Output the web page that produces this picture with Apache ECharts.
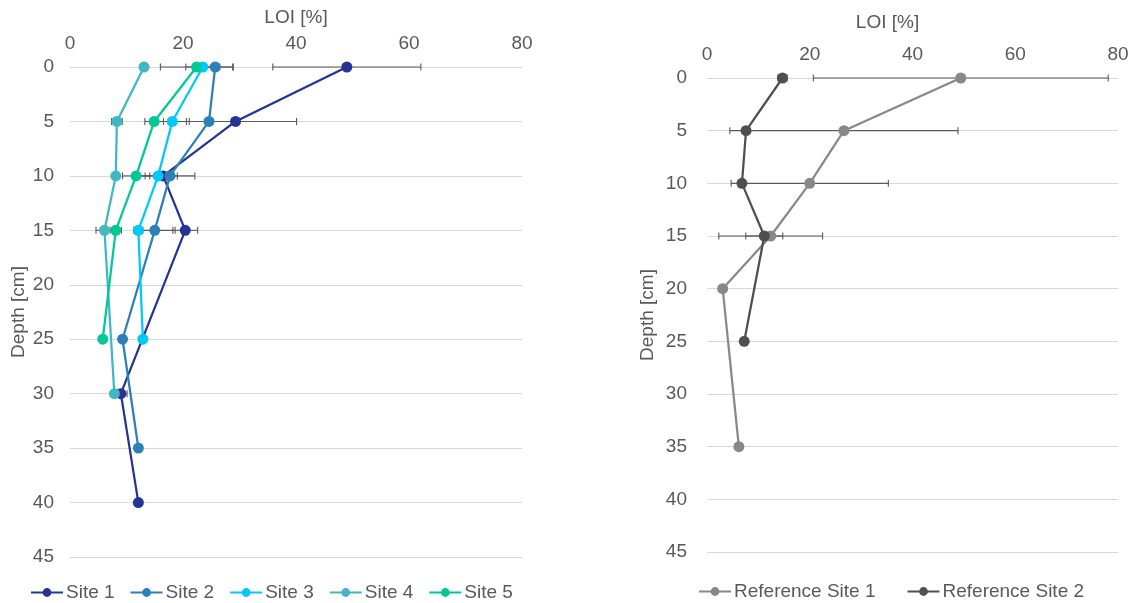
<!DOCTYPE html>
<html>
<head>
<meta charset="utf-8">
<script src="https://cdn.jsdelivr.net/npm/echarts@6/dist/echarts.min.js"></script>
<style>
  html, body { margin: 0; padding: 0; background: #fff; }
  #chart { width: 1135px; height: 603px; }
</style>
</head>
<body>
<div id="chart"></div>
<script>
// Loss on ignition (LOI) depth profiles: five study sites (left panel)
// and two reference sites (right panel), with ± error bars.

const site1Depth = [0, 5, 10, 15, 30, 40];
const site1Loi   = [49.0, 29.3, 16.5, 20.4, 9.0, 12.1];
const site1Err   = [13.1, 10.8, 0, 2.2, 1.1, 0];

const site2Depth = [0, 5, 10, 15, 25, 35];
const site2Loi   = [25.7, 24.6, 17.7, 15.0, 9.3, 12.1];
const site2Err   = [3.2, 4.0, 4.4, 3.6, 0, 0];

const site3Depth = [0, 5, 10, 15, 25];
const site3Loi   = [23.5, 18.1, 15.6, 12.1, 12.9];
const site3Err   = [3.0, 3.0, 3.4, 0.8, 0];

const site4Depth = [0, 5, 10, 15, 30];
const site4Loi   = [13.1, 8.3, 8.1, 6.1, 7.85];
const site4Err   = [0, 0.95, 0, 1.5, 0];

const site5Depth = [0, 5, 10, 15, 25];
const site5Loi   = [22.4, 14.9, 11.7, 8.1, 5.8];
const site5Err   = [6.4, 1.65, 2.4, 1.0, 0];

const ref1Depth = [0, 5, 10, 15, 20, 35];
const ref1Loi   = [49.4, 26.65, 20.0, 12.4, 3.05, 6.2];
const ref1Err   = [28.7, 22.2, 15.3, 10.1, 0, 0];

const ref2Depth = [0, 5, 10, 15, 25];
const ref2Loi   = [14.7, 7.6, 6.8, 11.15, 7.25];
const ref2Err   = [0.9, 0, 0, 3.6, 0];

const siteNames = ['Site 1', 'Site 2', 'Site 3', 'Site 4', 'Site 5'];
const refNames  = ['Reference Site 1', 'Reference Site 2'];

const siteColors = ['#253494', '#2c7fb8', '#00c8f8', '#41b6c4', '#00c896'];
const refColors  = ['#888888', '#4f4f4f'];

const FONT = '"Liberation Sans", Arial, sans-serif';
const TEXT = '#595959';
const FS = 19;
const ERR_COLOR = '#5a5a5a';

function lineSeries(name, depth, loi, color, axis) {
  return {
    name: name,
    type: 'line',
    xAxisIndex: axis, yAxisIndex: axis,
    data: loi.map((v, i) => [v, depth[i]]),
    symbol: 'circle',
    symbolSize: 11,
    color: color,
    lineStyle: { width: 2.25, color: color },
    itemStyle: { color: color },
    z: 3,
    animation: false
  };
}

function errorSeries(depth, loi, err, axis) {
  const data = [];
  loi.forEach((v, i) => {
    if (err[i] > 0) data.push([depth[i], v - err[i], v + err[i]]);
  });
  return {
    type: 'custom',
    xAxisIndex: axis, yAxisIndex: axis,
    data: data,
    encode: { x: [1, 2], y: 0 },
    silent: true,
    z: 2,
    animation: false,
    renderItem: function (params, api) {
      const d = api.value(0);
      const a = api.coord([api.value(1), d]);
      const b = api.coord([api.value(2), d]);
      const h = 3.5;
      const style = { stroke: ERR_COLOR, lineWidth: 1.1 };
      return {
        type: 'group',
        children: [
          { type: 'line', shape: { x1: a[0], y1: a[1], x2: b[0], y2: b[1] }, style: style },
          { type: 'line', shape: { x1: a[0], y1: a[1] - h, x2: a[0], y2: a[1] + h }, style: style },
          { type: 'line', shape: { x1: b[0], y1: b[1] - h, x2: b[0], y2: b[1] + h }, style: style }
        ]
      };
    }
  };
}

function xAxis(idx, gap, namePad) {
  return {
    gridIndex: idx,
    type: 'value',
    position: 'top',
    min: 0, max: 80, interval: 20,
    name: 'LOI [%]',
    nameLocation: 'middle',
    nameGap: gap,
    nameTextStyle: { color: TEXT, fontSize: FS, fontFamily: FONT, padding: namePad },
    axisLine: { show: false },
    axisTick: { show: false },
    splitLine: { show: false },
    axisLabel: { color: TEXT, fontSize: FS, fontFamily: FONT, margin: 14 }
  };
}

function yAxis(idx, gap, margin) {
  return {
    gridIndex: idx,
    type: 'value',
    inverse: true,
    min: 0, max: 45, interval: 5,
    name: 'Depth [cm]',
    nameLocation: 'middle',
    nameGap: gap,
    nameRotate: 90,
    nameTextStyle: { color: TEXT, fontSize: FS, fontFamily: FONT },
    axisLine: { show: false },
    axisTick: { show: false },
    splitLine: { show: true, lineStyle: { color: '#d9d9d9', width: 1 } },
    axisLabel: { color: TEXT, fontSize: FS, fontFamily: FONT, margin: margin }
  };
}

const series = [];
const sites = [
  [site1Depth, site1Loi, site1Err],
  [site2Depth, site2Loi, site2Err],
  [site3Depth, site3Loi, site3Err],
  [site4Depth, site4Loi, site4Err],
  [site5Depth, site5Loi, site5Err]
];
sites.forEach((s) => series.push(errorSeries(s[0], s[1], s[2], 0)));
sites.forEach((s, i) => series.push(lineSeries(siteNames[i], s[0], s[1], siteColors[i], 0)));

const refs = [
  [ref1Depth, ref1Loi, ref1Err],
  [ref2Depth, ref2Loi, ref2Err]
];
refs.forEach((s) => series.push(errorSeries(s[0], s[1], s[2], 1)));
refs.forEach((s, i) => series.push(lineSeries(refNames[i], s[0], s[1], refColors[i], 1)));

const legendCommon = {
  orient: 'horizontal',
  itemWidth: 32,
  itemHeight: 11,
  textStyle: { color: TEXT, fontSize: FS, fontFamily: FONT, padding: [0, 0, 0, -2] },
  selectedMode: false
};

const option = {
  backgroundColor: '#ffffff',
  animation: false,
  grid: [
    { left: 70, right: 613, top: 67, bottom: 46 },
    { left: 707, right: 17, top: 78, bottom: 51 }
  ],
  xAxis: [xAxis(0, 40, [0, 0, 0, 0]), xAxis(1, 46, [0, 50, 0, 0])],
  yAxis: [yAxis(0, 42, 16), yAxis(1, 50, 20)],
  legend: [
    Object.assign({}, legendCommon, { data: siteNames, left: 25, top: 578, itemGap: 15 }),
    Object.assign({}, legendCommon, { data: refNames, left: 693, top: 577, itemGap: 31 })
  ],
  series: series
};

const chart = echarts.init(document.getElementById('chart'), null, { renderer: 'canvas' });
chart.setOption(option);
</script>
</body>
</html>
